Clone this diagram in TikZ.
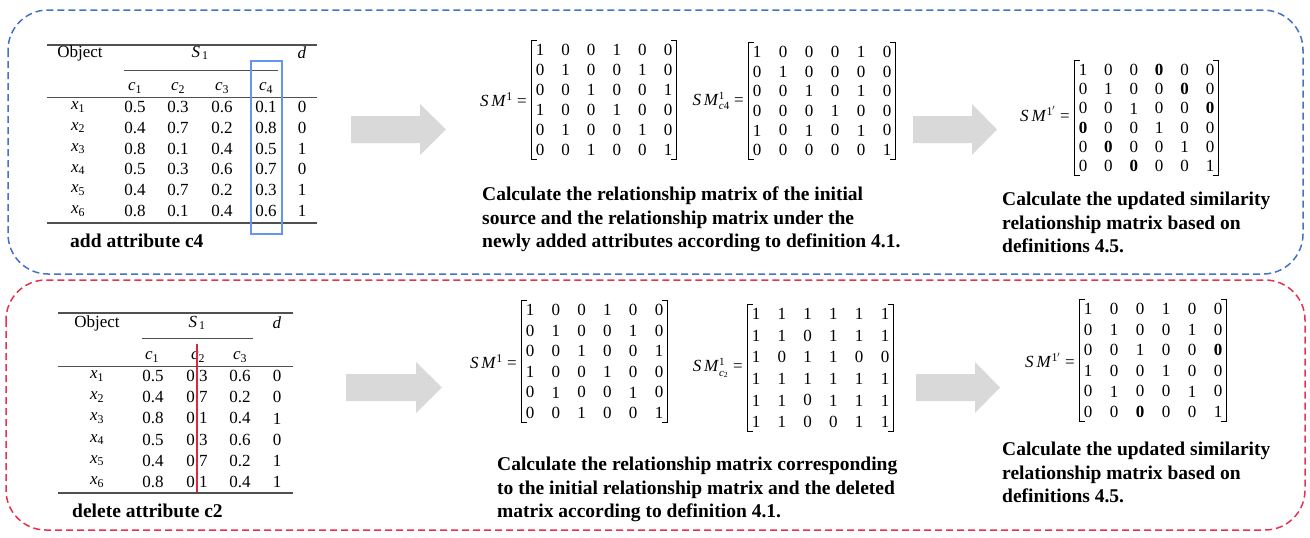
\documentclass[tikz,border=0pt]{standalone}
\usepackage{fontspec}
\setmainfont{Liberation Serif}
\usetikzlibrary{matrix}
\definecolor{boxblue}{RGB}{68,114,196}
\definecolor{boxred}{RGB}{230,50,80}
\definecolor{arrowgray}{RGB}{217,217,217}
\definecolor{selblue}{RGB}{100,150,235}
\definecolor{rulegray}{RGB}{80,80,80}
\definecolor{cutred}{RGB}{220,40,60}
\newcommand{\scr}[1]{\mbox{\fontsize{11}{11}\selectfont #1}}
\begin{document}
\begin{tikzpicture}[x=1pt,y=-1pt,
  frame/.style={dash pattern=on 7pt off 4pt, line width=1.5pt, rounded corners=40pt},
  tcell/.style={inner sep=0pt, font=\fontsize{17}{20}\selectfont},
  rulethick/.style={rulegray, line width=1.2pt},
  rulethin/.style={rulegray, line width=0.8pt},
  mat/.style={matrix of nodes, inner sep=0pt,
    nodes={inner sep=0pt, minimum width=12pt, minimum height=14pt, anchor=center,
           font=\fontsize{17}{20}\selectfont}},
  bracket/.style={line width=0.9pt, black},
  lbl/.style={inner sep=0pt, anchor=east, font=\fontsize{17}{20}\selectfont},
  caption/.style={inner sep=0pt, font=\fontsize{19.5}{23.5}\selectfont\bfseries},
  para/.style={inner sep=0pt, anchor=north west, align=left, font=\fontsize{19.5}{23.5}\selectfont\bfseries},
  bigarrow/.style={fill=arrowgray}
]
\useasboundingbox (0,0) rectangle (1310,538);

% frames
\draw[frame, boxblue] (8,10) rectangle (1303,274);
\draw[frame, boxred] (6,280) rectangle (1305,530);

% ---------- top table ----------
\draw[rulethick] (47,45) -- (317,45);
\draw[rulethin] (124,70) -- (278,70);
\draw[rulethin] (47,97) -- (317,97);
\draw[rulethick] (47,223) -- (317,223);
\node[tcell] (ta-obj) at (80,53) {Object};
\node[tcell] (ta-s) at (200,53) {\textit{S}\textsubscript{\,1}};
\node[tcell] (ta-d) at (302,53) {\textit{d}};
\foreach \c/\x in {1/135,2/178,3/222,4/266}
  \node[tcell] (ta-h\c) at (\x,88) {\textit{c}\textsubscript{\c}};
\foreach \a/\b/\c/\e/\d [count=\i] in {0.5/0.3/0.6/0.1/0, 0.4/0.7/0.2/0.8/0, 0.8/0.1/0.4/0.5/1, 0.5/0.3/0.6/0.7/0, 0.4/0.7/0.2/0.3/1, 0.8/0.1/0.4/0.6/1}{
  \node[tcell] (ta-\i-x) at (78,{86.2+20.8*\i}) {\textit{x}\textsubscript{\i}};
  \node[tcell] (ta-\i-1) at (135,{86.2+20.8*\i}) {\a};
  \node[tcell] (ta-\i-2) at (178,{86.2+20.8*\i}) {\b};
  \node[tcell] (ta-\i-3) at (222,{86.2+20.8*\i}) {\c};
  \node[tcell] (ta-\i-4) at (266,{86.2+20.8*\i}) {\e};
  \node[tcell] (ta-\i-d) at (302,{86.2+20.8*\i}) {\d};
}
\draw[selblue, line width=1.5pt] (251,61) rectangle (282,234);
\node[caption, anchor=west] (capA) at (70,241) {add attribute c4};

% ---------- bottom table ----------
\draw[rulethick] (58,313) -- (293,313);
\draw[rulethin] (142,338) -- (253,338);
\draw[rulethin] (58,366) -- (293,366);
\draw[rulethick] (58,493) -- (293,493);
\node[tcell] (tb-obj) at (97,323) {Object};
\node[tcell] (tb-s) at (197,323) {\textit{S}\textsubscript{\,1}};
\node[tcell] (tb-d) at (277,323) {\textit{d}};
\foreach \c/\x in {1/152,2/198,3/240}
  \node[tcell] (tb-h\c) at (\x,357) {\textit{c}\textsubscript{\c}};
\foreach \a/\b/\c/\d [count=\i] in {0.5/0.3/0.6/0, 0.4/0.7/0.2/0, 0.8/0.1/0.4/1, 0.5/0.3/0.6/0, 0.4/0.7/0.2/1, 0.8/0.1/0.4/1}{
  \node[tcell] (tb-\i-x) at (97,{354.8+21.2*\i}) {\textit{x}\textsubscript{\i}};
  \node[tcell] (tb-\i-1) at (153,{354.8+21.2*\i}) {\a};
  \node[tcell] (tb-\i-2) at (197,{354.8+21.2*\i}) {\b};
  \node[tcell] (tb-\i-3) at (240,{354.8+21.2*\i}) {\c};
  \node[tcell] (tb-\i-d) at (277,{354.8+21.2*\i}) {\d};
}
\draw[cutred, line width=1.2pt] (197,344) -- (197,492);
\node[caption, anchor=west] (capB) at (72,511) {delete attribute c2};

% ---------- arrows ----------
\fill[bigarrow] (351,116) -- (420,116) -- (420,104) -- (446,129.5) -- (420,155) -- (420,143) -- (351,143) -- cycle;
\fill[bigarrow] (913,116) -- (972,116) -- (972,104) -- (997,129.5) -- (972,155) -- (972,143) -- (913,143) -- cycle;
\fill[bigarrow] (346,374) -- (416,374) -- (416,362) -- (442,387.5) -- (416,413) -- (416,401) -- (346,401) -- cycle;
\fill[bigarrow] (916,374) -- (975,374) -- (975,362) -- (1000,387.5) -- (975,413) -- (975,401) -- (916,401) -- cycle;

% ---------- matrices ----------
\matrix (A) [mat, column sep=13.6pt, row sep=6pt] at (604,100) {
1 & 0 & 0 & 1 & 0 & 0 \\
0 & 1 & 0 & 0 & 1 & 0 \\
0 & 0 & 1 & 0 & 0 & 1 \\
1 & 0 & 0 & 1 & 0 & 0 \\
0 & 1 & 0 & 0 & 1 & 0 \\
0 & 0 & 1 & 0 & 0 & 1 \\
};
\matrix (B) [mat, column sep=14pt, row sep=5.6pt] at (822,101) {
1 & 0 & 0 & 0 & 1 & 0 \\
0 & 1 & 0 & 0 & 0 & 0 \\
0 & 0 & 1 & 0 & 1 & 0 \\
0 & 0 & 0 & 1 & 0 & 0 \\
1 & 0 & 1 & 0 & 1 & 0 \\
0 & 0 & 0 & 0 & 0 & 1 \\
};
\matrix (C) [mat, column sep=13.4pt, row sep=5.2pt] at (1146.5,118) {
1 & 0 & 0 & \textbf{0} & 0 & 0 \\
0 & 1 & 0 & 0 & \textbf{0} & 0 \\
0 & 0 & 1 & 0 & 0 & \textbf{0} \\
\textbf{0} & 0 & 0 & 1 & 0 & 0 \\
0 & \textbf{0} & 0 & 0 & 1 & 0 \\
0 & 0 & \textbf{0} & 0 & 0 & 1 \\
};
\matrix (D) [mat, column sep=13.8pt, row sep=6.6pt] at (594.5,361.5) {
1 & 0 & 0 & 1 & 0 & 0 \\
0 & 1 & 0 & 0 & 1 & 0 \\
0 & 0 & 1 & 0 & 0 & 1 \\
1 & 0 & 0 & 1 & 0 & 0 \\
0 & 1 & 0 & 0 & 1 & 0 \\
0 & 0 & 1 & 0 & 0 & 1 \\
};
\matrix (E) [mat, column sep=13.8pt, row sep=7.6pt] at (820.5,368) {
1 & 1 & 1 & 1 & 1 & 1 \\
1 & 1 & 0 & 1 & 1 & 1 \\
1 & 0 & 1 & 1 & 0 & 0 \\
1 & 1 & 1 & 1 & 1 & 1 \\
1 & 1 & 0 & 1 & 1 & 1 \\
1 & 1 & 0 & 0 & 1 & 1 \\
};
\matrix (F) [mat, column sep=14pt, row sep=6.6pt] at (1153,360.5) {
1 & 0 & 0 & 1 & 0 & 0 \\
0 & 1 & 0 & 0 & 1 & 0 \\
0 & 0 & 1 & 0 & 0 & \textbf{0} \\
1 & 0 & 0 & 1 & 0 & 0 \\
0 & 1 & 0 & 0 & 1 & 0 \\
0 & 0 & \textbf{0} & 0 & 0 & 1 \\
};
\foreach \m in {A,B,C,D,E,F}{
  \draw[bracket] ([xshift=3pt,yshift=2pt]\m.north west) -- ([xshift=-2pt,yshift=2pt]\m.north west)
     -- ([xshift=-2pt,yshift=-2pt]\m.south west) -- ([xshift=3pt,yshift=-2pt]\m.south west);
  \draw[bracket] ([xshift=-3pt,yshift=2pt]\m.north east) -- ([xshift=2pt,yshift=2pt]\m.north east)
     -- ([xshift=2pt,yshift=-2pt]\m.south east) -- ([xshift=-3pt,yshift=-2pt]\m.south east);
}
\node[lbl] (Alab) at ([xshift=-7pt]A.west) {\textit{S\,M}\textsuperscript{1} =};
\node[lbl] (Blab) at ([xshift=-7pt]B.west) {\textit{S\,M}$^{\scr{1}}_{\scr{\itshape c\upshape 4}}$ =};
\node[lbl] (Clab) at ([xshift=-7pt,yshift=4pt]C.west) {\textit{S\,M}\textsuperscript{1$'$} =};
\node[lbl] (Dlab) at ([xshift=-7pt]D.west) {\textit{S\,M}\textsuperscript{1} =};
\node[lbl] (Elab) at ([xshift=-7pt]E.west) {\textit{S\,M}$^{\scr{1}}_{\scr{\itshape c\upshape\textsubscript{2}}}$ =};
\node[lbl] (Flab) at ([xshift=-7pt]F.west) {\textit{S\,M}\textsuperscript{1$'$} =};

% ---------- texts ----------
\node[para] (txtA) at (482,187) {Calculate the relationship matrix of the initial\\source and the relationship matrix under the\\newly added attributes according to definition 4.1.};
\node[para] (txtB) at (1002,192) {Calculate the updated similarity\\relationship matrix based on\\definitions 4.5.};
\node[para] (txtC) at (497,457) {Calculate the relationship matrix corresponding\\to the initial relationship matrix and the deleted\\matrix according to definition 4.1.};
\node[para] (txtD) at (1002,442) {Calculate the updated similarity\\relationship matrix based on\\definitions 4.5.};
\end{tikzpicture}
\end{document}
